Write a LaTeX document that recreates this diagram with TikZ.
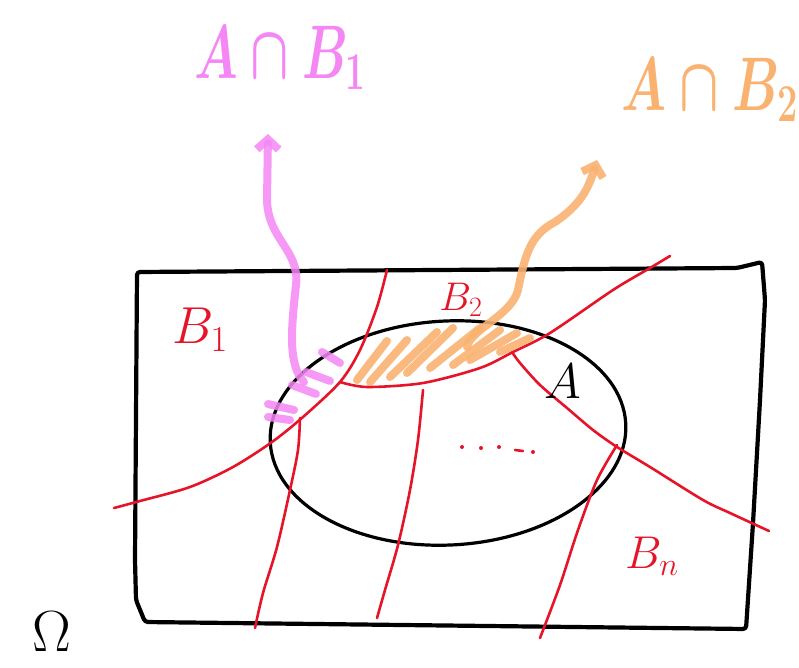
\documentclass[tikz,border=0pt]{standalone}
\usepackage{fix-cm}
\usetikzlibrary{arrows.meta}

\definecolor{inkred}{RGB}{230,20,40}
\definecolor{inkpink}{RGB}{245,135,245}
\definecolor{inkorange}{RGB}{250,178,112}
\newcommand{\inksize}[1]{\fontsize{#1}{#1}\selectfont}

\begin{document}
\begin{tikzpicture}[
    x=1pt, y=-1pt,
    frame/.style={draw=black, line width=4.2pt, line join=round, rounded corners=3pt},
    setA/.style={draw=black, line width=3.2pt},
    cut/.style={draw=inkred, line width=2.6pt, line cap=round},
    pinkink/.style={draw=inkpink, line width=8pt, line cap=round, opacity=0.85},
    orangeink/.style={draw=inkorange, line width=8pt, line cap=round, opacity=0.9},
    pointer/.style={-{Straight Barb[length=10pt,width=22pt]}, line width=8pt, line cap=round},
    redlabel/.style={text=inkred, inner sep=0pt}
]
\fill[white] (0,0) rectangle (799,668);
\useasboundingbox (0,0) rectangle (799,668);

% sample space and the event A
\draw[frame] (137,272) -- (737,268) -- (762,262) -- (765,300) -- (760,400) -- (753,523)
    -- (746,629) -- (145,622) -- (136,600) -- (135,560) -- cycle;
\draw[setA] (448,433) ellipse[x radius=178, y radius=112, rotate=3];

% partition B_1 ... B_n
\draw[cut] plot[smooth] coordinates {(114,508) (140,501) (190,487) (233,467) (272,442)
    (303,417) (340,382) (360,350) (377,307) (387,270)};
\draw[cut] plot[smooth] coordinates {(340,382) (367,387) (423,383) (480,368) (513,352)
    (550,333) (613,290) (650,268) (670,256)};
\draw[cut] plot[smooth] coordinates {(300,418) (298,450) (290,490) (277,547) (263,593) (255,628)};
\draw[cut] plot[smooth] coordinates {(423,390) (418,440) (410,490) (398,545) (385,590) (377,618)};
\draw[cut] plot[smooth] coordinates {(512,352) (520,363) (540,385) (567,408) (593,430)
    (617,447) (650,467) (703,500) (730,513) (769,531)};
\draw[cut] plot[smooth] coordinates {(617,445) (597,480) (578,530) (560,585) (540,638)};

% dots
\foreach \px/\py in {462/447, 481/448, 499/447, 533/452}
    \fill[inkred] (\px,\py) circle[radius=2];
\draw[cut] (515,450) -- (523,451);

% hatching of A and B_1
\foreach \ax/\ay/\bx/\by in {306/372/330/381, 322/352/340/363, 292/385/316/394,
    268/404/294/410, 268/417/290/420}
    \draw[pinkink] (\ax,\ay) -- (\bx,\by);

% hatching of A and B_2
\foreach \ax/\ay/\bx/\by in {357/380/387/341, 370/382/407/340, 390/377/437/332,
    407/373/453/328, 430/368/480/328, 453/365/500/330, 470/360/517/333, 500/352/530/338}
    \draw[orangeink] (\ax,\ay) -- (\bx,\by);

% labels
\node[redlabel, font=\inksize{52}] (b1) at (200,330) {$B_1$};
\node[redlabel, font=\inksize{40}] (b2) at (461,300) {$B_2$};
\node[redlabel, font=\inksize{46}] (bn) at (652,556) {$B_n$};
\node[inner sep=0pt, font=\inksize{50}] (a) at (563,381) {$A$};
\node[inner sep=0pt, anchor=base, font=\inksize{58}] (omega) at (52,651) {$\Omega$};

\node[inner sep=0pt, text=inkpink, font=\inksize{76}\boldmath] (ab1) at (280,58)
    {\scalebox{0.66}[1]{$A\cap B_1$}};
\node[inner sep=0pt, text=inkorange, font=\inksize{76}\boldmath] (ab2) at (710,90)
    {\scalebox{0.68}[1]{$A\cap B_2$}};

% pointers to the labels
\coordinate (pinkfoot) at (304,382);
\coordinate (pinktip) at (268,134);
\coordinate (orangefoot) at (467,347);
\coordinate (orangetip) at (597,160);
\draw[pointer, draw=inkpink, opacity=0.85] (pinkfoot) .. controls (288,365) and (291,330) .. (296,285)
    .. controls (300,250) and (268,240) .. (267,200) -- (pinktip);
\draw[pointer, draw=inkorange, opacity=0.9] (orangefoot) .. controls (470,330) and (512,315) .. (518,290)
    .. controls (525,255) and (530,235) .. (555,222) .. controls (580,205) and (588,190) .. (orangetip);

\end{tikzpicture}
\end{document}
